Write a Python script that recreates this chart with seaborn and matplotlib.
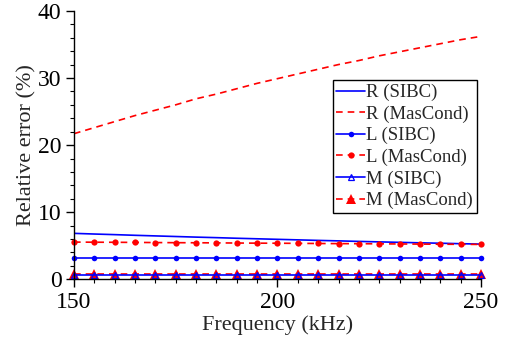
import numpy as np
import matplotlib
matplotlib.use("Agg")
import matplotlib.pyplot as plt
from matplotlib.ticker import MultipleLocator
import seaborn as sns

sns.set_style("ticks")
plt.rcParams['font.family'] = ['Liberation Serif', 'DejaVu Serif']

# frequency points (kHz), one marker every 5 kHz
freq = np.arange(150, 251, 5)

# relative errors (%)
r_sibc = [6.85, 6.75, 6.66, 6.56, 6.47, 6.38, 6.29, 6.21, 6.12, 6.04, 5.96,
          5.88, 5.80, 5.73, 5.65, 5.58, 5.51, 5.44, 5.38, 5.31, 5.25]
r_mascond = [21.7, 22.6, 23.5, 24.4, 25.2, 26.0, 26.9, 27.6, 28.4, 29.2, 29.9,
             30.6, 31.3, 32.0, 32.6, 33.3, 33.9, 34.5, 35.1, 35.7, 36.2]
l_sibc = [3.13] * 21
l_mascond = [5.55, 5.53, 5.52, 5.50, 5.48, 5.46, 5.45, 5.43, 5.41, 5.39, 5.38,
             5.36, 5.34, 5.32, 5.31, 5.29, 5.27, 5.25, 5.23, 5.22, 5.20]
m_sibc = [0.60] * 21
m_mascond = [0.75] * 21

blue = "#0000ff"
red = "#ff0000"
dash = (0, (4, 3))

fig, ax = plt.subplots(figsize=(5.05, 3.39), dpi=100)
fig.subplots_adjust(left=0.1465, right=0.9525, bottom=0.176, top=0.968)

sns.lineplot(x=freq, y=r_sibc, ax=ax, color=blue, lw=1.2, label="R (SIBC)")
sns.lineplot(x=freq, y=r_mascond, ax=ax, color=red, lw=1.2, linestyle=dash,
             label="R (MasCond)")
sns.lineplot(x=freq, y=l_sibc, ax=ax, color=blue, lw=1.2, marker="o",
             markersize=4, markeredgewidth=0, label="L (SIBC)", clip_on=False)
sns.lineplot(x=freq, y=l_mascond, ax=ax, color=red, lw=1.2, linestyle=dash,
             marker="o", markersize=4.5, markeredgewidth=0,
             label="L (MasCond)", clip_on=False)
# red filled triangles sit under the open blue ones
sns.lineplot(x=freq, y=m_mascond, ax=ax, color=red, lw=1.2, linestyle=dash,
             marker="^", markersize=7, markeredgewidth=0,
             label="M (MasCond)", clip_on=False)
sns.lineplot(x=freq, y=m_sibc, ax=ax, color=blue, lw=1.2, marker="^",
             markersize=4, markerfacecolor="none", markeredgewidth=0.9,
             markeredgecolor=blue, label="M (SIBC)", clip_on=False)

ax.set_xlim(150, 250)
ax.set_ylim(0, 40)
ax.xaxis.set_major_locator(MultipleLocator(50))
ax.xaxis.set_minor_locator(MultipleLocator(5))
ax.yaxis.set_major_locator(MultipleLocator(10))
ax.yaxis.set_minor_locator(MultipleLocator(2))
ax.tick_params(which="major", length=6, width=1, labelsize=17, colors="black", pad=3)
ax.tick_params(which="minor", length=3, width=0.8, colors="black")
ax.set_xlabel("Frequency (kHz)", fontsize=16, labelpad=2)
ax.set_ylabel("Relative error (%)", fontsize=16, labelpad=1)
sns.despine(ax=ax)
for s in ["left", "bottom"]:
    ax.spines[s].set_color("black")
    ax.spines[s].set_linewidth(1)

handles, labels = ax.get_legend_handles_labels()
order = ["R (SIBC)", "R (MasCond)", "L (SIBC)", "L (MasCond)", "M (SIBC)", "M (MasCond)"]
hmap = dict(zip(labels, handles))
leg = ax.legend([hmap[k] for k in order], order, loc="upper right",
                bbox_to_anchor=(0.99, 0.742), borderaxespad=0, fontsize=13.5,
                handlelength=1.5, handletextpad=0.1, labelspacing=0.23,
                borderpad=0.2, fancybox=False, framealpha=1, edgecolor="black")
leg.get_frame().set_linewidth(1)

fig.savefig("out.png", dpi=100)
